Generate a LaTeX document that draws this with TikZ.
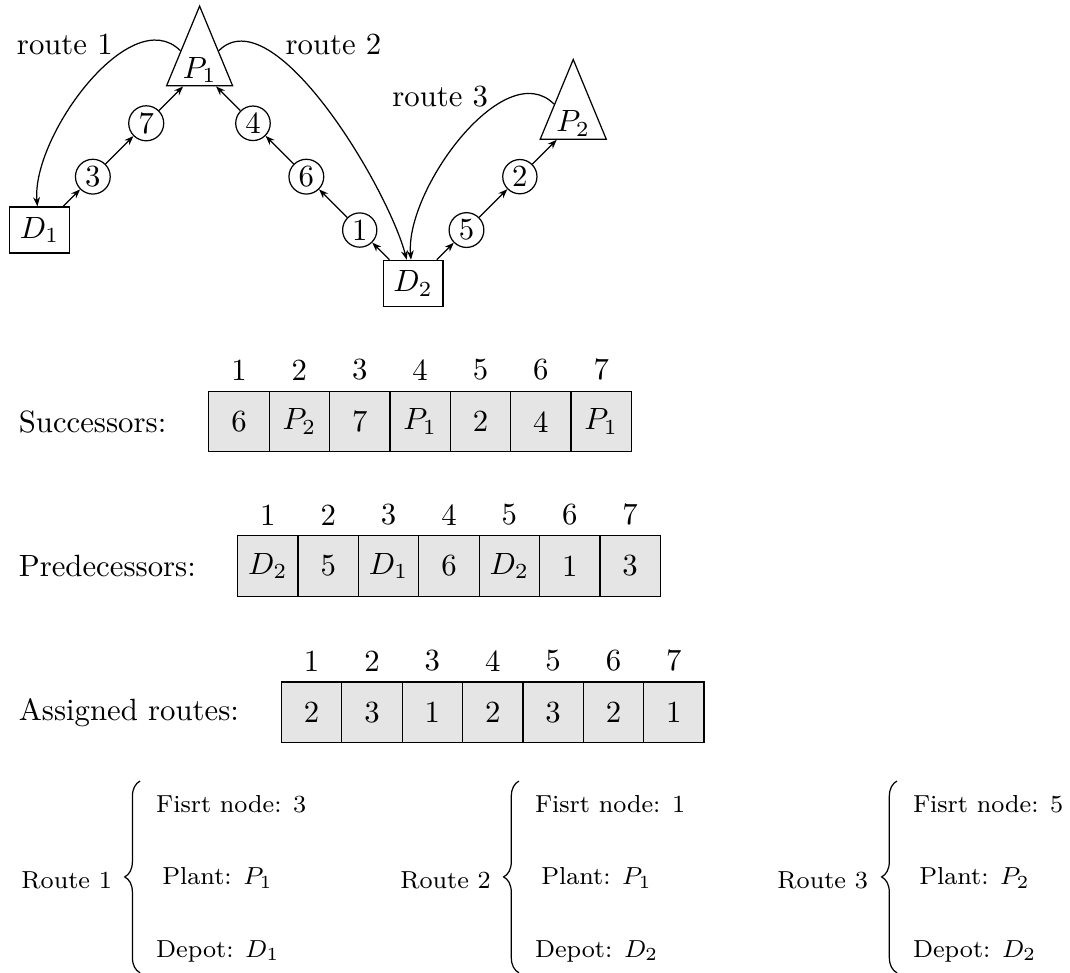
\documentclass[tikz,border=0pt]{standalone}
\usetikzlibrary{arrows.meta,positioning,shapes.geometric,decorations.pathreplacing}

\begin{document}
\begin{tikzpicture}[>={Stealth[length=3pt]},
  cust/.style={circle, draw, inner sep=1pt},
  depot/.style={rectangle, draw},
  plant/.style={isosceles triangle, isosceles triangle apex angle=45, shape border rotate=90, draw, inner sep=1pt},
  cell/.style={rectangle, draw, fill=gray!20, minimum size=0.69cm, inner sep=0pt, outer sep=0pt},
  rowlab/.style={anchor=west},
  routename/.style={font=\footnotesize, anchor=west},
  routeinfo/.style={font=\footnotesize, anchor=west, align=left},
  curly/.style={decorate, decoration={brace, amplitude=5pt}}]
  \useasboundingbox (-0.451,2.629) rectangle (11.777,-8.480);

  % Depots, plants and customers
  \node[depot] (d1) at (0,0) {$D_1$};
  \node[cust] (c3) at (0.61,0.61) {3};
  \node[cust] (c7) at (1.22,1.22) {7};
  \node[plant] (p1) at (1.83,1.83) {$P_1$};
  \node[cust] (c4) at (2.44,1.22) {4};
  \node[cust] (c6) at (3.05,0.61) {6};
  \node[cust] (c1) at (3.66,0) {1};
  \node[depot] (d2) at (4.27,-0.61) {$D_2$};
  \node[cust] (c5) at (4.88,0) {5};
  \node[cust] (c2) at (5.49,0.61) {2};
  \node[plant] (p2) at (6.10,1.22) {$P_2$};

  % Route arcs
  \draw[->] (d1) -- (c3);
  \draw[->] (c3) -- (c7);
  \draw[->] (c7) -- (p1);
  \draw[->] (d2) -- (c1);
  \draw[->] (c1) -- (c6);
  \draw[->] (c6) -- (c4);
  \draw[->] (c4) -- (p1);
  \draw[->] (d2) -- (c5);
  \draw[->] (c5) -- (c2);
  \draw[->] (c2) -- (p2);

  % Return trips
  \draw[->] (p1) to[out=135, in=95, looseness=0.85] (d1);
  \draw[->] (p1) to[out=45, in=105, looseness=0.7] (d2);
  \draw[->] (p2) to[out=135, in=95, looseness=0.85] (d2);
  \node (r1) at (0.29,2.12) {route 1};
  \node (r2) at (3.36,2.12) {route 2};
  \node (r3) at (4.58,1.52) {route 3};

  % Successors
  \node[rowlab] (succlab) at (-0.36,-2.19) {Successors:};
  \node[cell, label=above:1] (s1) at (2.28,-2.19) {6};
  \node[cell, label=above:2] (s2) at (2.97,-2.19) {$P_2$};
  \node[cell, label=above:3] (s3) at (3.66,-2.19) {7};
  \node[cell, label=above:4] (s4) at (4.35,-2.19) {$P_1$};
  \node[cell, label=above:5] (s5) at (5.04,-2.19) {2};
  \node[cell, label=above:6] (s6) at (5.73,-2.19) {4};
  \node[cell, label=above:7] (s7) at (6.42,-2.19) {$P_1$};

  % Predecessors
  \node[rowlab] (predlab) at (-0.36,-3.84) {Predecessors:};
  \node[cell, label=above:1] (q1) at (2.61,-3.84) {$D_2$};
  \node[cell, label=above:2] (q2) at (3.30,-3.84) {5};
  \node[cell, label=above:3] (q3) at (3.99,-3.84) {$D_1$};
  \node[cell, label=above:4] (q4) at (4.68,-3.84) {6};
  \node[cell, label=above:5] (q5) at (5.37,-3.84) {$D_2$};
  \node[cell, label=above:6] (q6) at (6.06,-3.84) {1};
  \node[cell, label=above:7] (q7) at (6.75,-3.84) {3};

  % Assigned routes
  \node[rowlab] (asglab) at (-0.36,-5.51) {Assigned routes:};
  \node[cell, label=above:1] (a1) at (3.11,-5.51) {2};
  \node[cell, label=above:2] (a2) at (3.80,-5.51) {3};
  \node[cell, label=above:3] (a3) at (4.49,-5.51) {1};
  \node[cell, label=above:4] (a4) at (5.18,-5.51) {2};
  \node[cell, label=above:5] (a5) at (5.87,-5.51) {3};
  \node[cell, label=above:6] (a6) at (6.56,-5.51) {2};
  \node[cell, label=above:7] (a7) at (7.25,-5.51) {1};

  % Route summaries
  \node[routename] (route1) at (-0.33,-7.43) {Route 1};
  \node[routeinfo] (info1) at (1.21,-7.41) {Fisrt node: 3\\[14.1pt]\hspace{2pt}Plant: $P_1$\\[14.1pt]Depot: $D_1$};
  \draw[curly] ([xshift=-0.06cm]info1.south west) -- ([xshift=-0.06cm,yshift=1pt]info1.north west);

  \node[routename] (route2) at (4.00,-7.43) {Route 2};
  \node[routeinfo] (info2) at (5.54,-7.41) {Fisrt node: 1\\[14.1pt]\hspace{2pt}Plant: $P_1$\\[14.1pt]Depot: $D_2$};
  \draw[curly] ([xshift=-0.06cm]info2.south west) -- ([xshift=-0.06cm,yshift=1pt]info2.north west);

  \node[routename] (route3) at (8.31,-7.43) {Route 3};
  \node[routeinfo] (info3) at (9.86,-7.41) {Fisrt node: 5\\[14.1pt]\hspace{2pt}Plant: $P_2$\\[14.1pt]Depot: $D_2$};
  \draw[curly] ([xshift=-0.06cm]info3.south west) -- ([xshift=-0.06cm,yshift=1pt]info3.north west);
\end{tikzpicture}
\end{document}
